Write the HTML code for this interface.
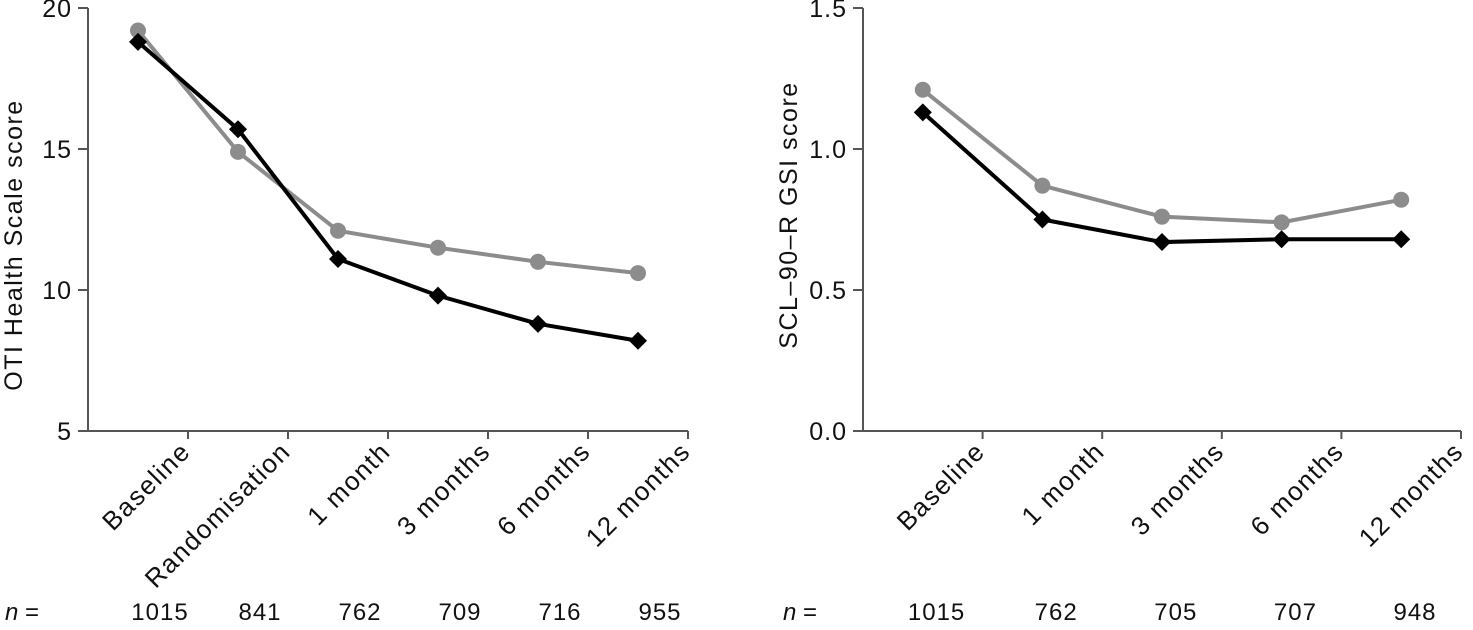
<!DOCTYPE html>
<html><head><meta charset="utf-8"><style>
body{margin:0;background:#fff;}
svg{display:block;font-family:"Liberation Sans",sans-serif;}
</style></head><body>
<svg id="c" width="1473" height="630"></svg>
<script>
const leftCats=["Baseline","Randomisation","1 month","3 months","6 months","12 months"];
const leftGray=[19.2,14.9,12.1,11.5,11.0,10.6];
const leftBlack=[18.8,15.7,11.1,9.8,8.8,8.2];
const leftTicks=[5,10,15,20];
const leftTickLabels=["5","10","15","20"];
const leftN=["1015","841","762","709","716","955"];
const rightCats=["Baseline","1 month","3 months","6 months","12 months"];
const rightGray=[1.21,0.87,0.76,0.74,0.82];
const rightBlack=[1.13,0.75,0.67,0.68,0.68];
const rightTicks=[0,0.5,1.0,1.5];
const rightTickLabels=["0.0","0.5","1.0","1.5"];
const rightN=["1015","762","705","707","948"];

const NS="http://www.w3.org/2000/svg";
const svg=document.getElementById('c');
function mk(t,a,p){const e=document.createElementNS(NS,t);for(const k in a)e.setAttribute(k,a[k]);(p||svg).appendChild(e);return e;}

function chart(cfg){
  const g=mk('g',{});
  
  
  const x0=cfg.x0,x1=cfg.x1,yTop=8,yBot=431;
  const n=cfg.cats.length, step=(x1-x0)/n;
  const X=i=>x0+step*(i+0.5);
  const Y=v=>yBot-(v-cfg.min)/(cfg.max-cfg.min)*(yBot-yTop);
  let a=mk('line',{x1:x0,y1:yTop,x2:x0,y2:yBot,stroke:'#555','stroke-width':2},g);
  
  a=mk('line',{x1:x0-10,y1:yBot,x2:x1,y2:yBot,stroke:'#555','stroke-width':2},g);
  
  cfg.ticks.forEach((v,i)=>{
    mk('line',{x1:x0-10,y1:Y(v),x2:x0,y2:Y(v),stroke:'#555','stroke-width':2},g);
    const t=mk('text',{x:x0-16,y:Y(v)+9,'text-anchor':'end','font-size':25,fill:'#111','letter-spacing':1},g);
    t.textContent=cfg.tickLabels[i];
    
  });
  for(let i=1;i<=n;i++) mk('line',{x1:x0+step*i,y1:yBot,x2:x0+step*i,y2:yBot+8,stroke:'#555','stroke-width':2},g);
  cfg.cats.forEach((c,i)=>{
    const ax=X(i)+step/2+4, ay=yBot+22;
    const t=mk('text',{x:ax,y:ay,'text-anchor':'end','font-size':26,fill:'#111','letter-spacing':1.5,transform:`rotate(-45 ${ax} ${ay})`},g);
    t.textContent=c;
    
    const nt=mk('text',{x:X(i)+step/2-cfg.nShift,y:620,'text-anchor':'middle','font-size':24,fill:'#111','letter-spacing':1},g);
    nt.textContent=cfg.nvals[i];
    
  });
  const nl=mk('text',{x:cfg.nx,y:620,'font-size':24,fill:'#111'},g);
  nl.innerHTML='<tspan font-style="italic">n</tspan> =';
  
  const yl=mk('text',{x:0,y:0,'text-anchor':'middle','font-size':25,fill:'#111','letter-spacing':1.5,transform:`translate(${cfg.ylx},${cfg.ylc}) rotate(-90)`},g);
  yl.textContent=cfg.ytitle;
  
  const gp=mk('polyline',{points:cfg.gray.map((v,i)=>X(i)+','+Y(v)).join(' '),fill:'none',stroke:'#8c8c8c','stroke-width':4},g);
  
  cfg.gray.forEach((v,i)=>{const c=mk('circle',{cx:X(i),cy:Y(v),r:8,fill:'#8c8c8c'},g);
    });
  const bp=mk('polyline',{points:cfg.black.map((v,i)=>X(i)+','+Y(v)).join(' '),fill:'none',stroke:'#000','stroke-width':4},g);
  
  cfg.black.forEach((v,i)=>{const x=X(i),y=Y(v);const d=mk('polygon',{points:`${x},${y-9} ${x+9},${y} ${x},${y+9} ${x-9},${y}`,fill:'#000'},g);
    });
}
chart({name:'oti-chart',x0:88,x1:688,min:5,max:20,cats:leftCats,gray:leftGray,black:leftBlack,ticks:leftTicks,tickLabels:leftTickLabels,nvals:leftN,nShift:28,nx:5,ylx:22,ylc:245,ytitle:'OTI Health Scale score'});
chart({name:'scl-chart',x0:863,x1:1461,min:0,max:1.5,cats:rightCats,gray:rightGray,black:rightBlack,ticks:rightTicks,tickLabels:rightTickLabels,nvals:rightN,nShift:46,nx:783,ylx:797,ylc:215,ytitle:'SCL–90–R GSI score'});
</script>
</body></html>
